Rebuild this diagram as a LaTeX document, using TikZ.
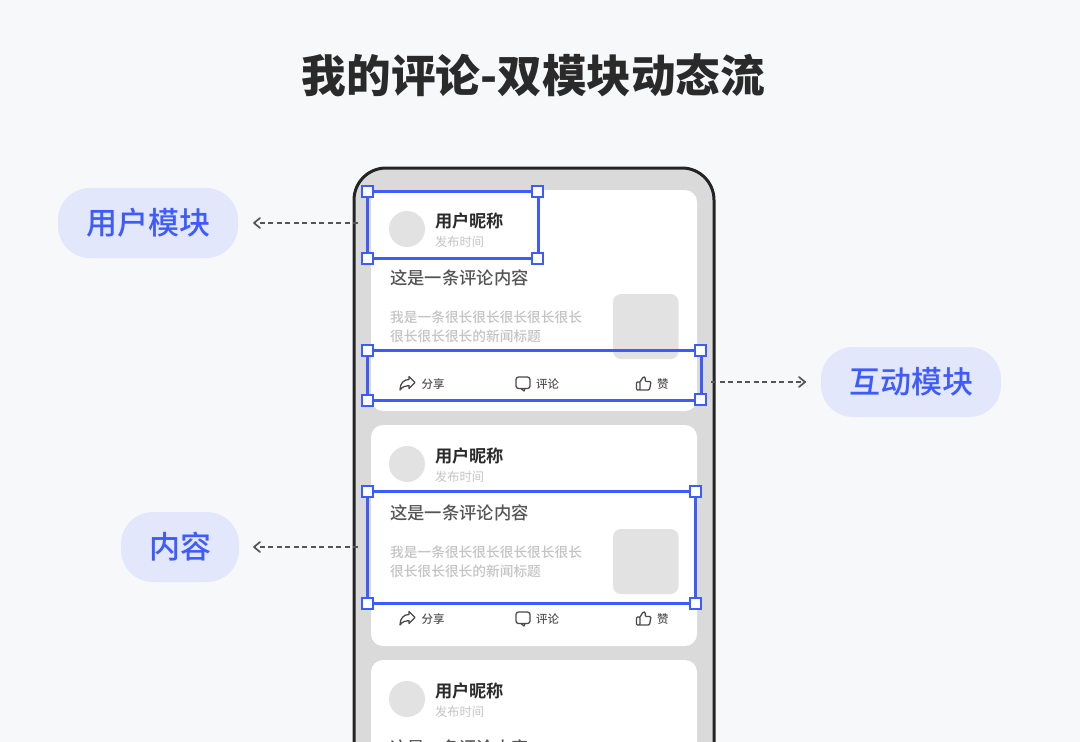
\documentclass[tikz,border=0pt]{standalone}
\usepackage{fontspec}
\setmainfont{Noto Sans CJK SC}
\newfontfamily\cjkreg{Noto Sans CJK SC}
\newfontfamily\cjkmed{Noto Sans CJK SC Medium}
\newfontfamily\cjkbold{Noto Sans CJK SC Bold}
\newfontfamily\cjktitle{Noto Sans CJK SC Black}
\definecolor{bgc}{HTML}{F7F8FA}
\definecolor{panel}{HTML}{DADADA}
\definecolor{ph}{HTML}{E2E2E2}
\definecolor{blu}{HTML}{3E5BFF}
\definecolor{pill}{HTML}{E2E7FB}
\definecolor{darkt}{HTML}{2A2A2A}
\definecolor{midt}{HTML}{555555}
\definecolor{lightt}{HTML}{C4C4C4}
\definecolor{icon}{HTML}{4A4A4A}
\tikzset{
  x=1pt,y=-1pt,
  card/.style={fill=white,rounded corners=12pt},
  sel/.style={draw=blu,line width=3pt},
  handle/.style={draw=blu,fill=white,line width=2pt,minimum size=11pt,inner sep=0pt,outer sep=0pt},
  pilln/.style={fill=pill,rounded corners=32pt,inner sep=0pt,minimum height=70pt,text=blu,font=\cjkmed\fontsize{31}{31}\selectfont},
  t/.style={inner sep=0pt,anchor=west},
  nick/.style={t,text=darkt,font=\cjkbold\fontsize{17.2}{18}\selectfont},
  when/.style={t,text=lightt,font=\cjkreg\fontsize{12.2}{13}\selectfont},
  body/.style={t,text=midt,font=\cjkmed\fontsize{17.3}{18}\selectfont},
  news/.style={t,text=lightt,font=\cjkmed\fontsize{13.7}{14}\selectfont},
  act/.style={t,text=midt,font=\cjkmed\fontsize{11.5}{12}\selectfont},
  lead/.style={draw=midt,line width=1.5pt,dash pattern=on 5pt off 3.5pt},
  tip/.style={draw=midt,line width=1.7pt,line join=round,line cap=round},
  ic/.style={draw=icon,line width=1.3pt,line join=round,line cap=round}
}
\newcommand{\cardbody}[1]{%
  \begin{scope}[yshift=#1]
    \fill[card] (371,190) rectangle (697,411);
    \fill[ph] (407,229) circle (18);
    \node[nick] at (435,220.7) {用户昵称};
    \node[when] at (435,241.7) {发布时间};
    \node[body] at (390,277.7) {这是一条评论内容};
    \node[news] at (390,317.3) {我是一条很长很长很长很长很长};
    \node[news] at (390,336.5) {很长很长很长的新闻标题};
    \fill[ph,rounded corners=8pt] (613,294) rectangle (678.5,359);
    \draw[ic] (400,390) .. controls (400,383) and (404,379.5) .. (409,379.5) -- (409,376.5) -- (415,382.5) -- (409,388.5) -- (409,385.5) .. controls (405.5,385.5) and (402,387) .. (400,390);
    \node[act] at (421.5,383.7) {分享};
    \draw[ic,rounded corners=2.5pt] (516,377) rectangle (530,388.5);
    \draw[ic] (521,388.5) -- (524,391) -- (525,388.5);
    \node[act] at (536,383.7) {评论};
    \draw[ic,rounded corners=1pt] (636.5,382) rectangle (640,390);
    \draw[ic,rounded corners=1.2pt] (640,382) -- (643.5,376.5) -- (645.5,377.5) -- (645,381.5) -- (651,381.5) -- (649.5,390) -- (640,390);
    \node[act] at (657,383.7) {赞};
  \end{scope}}
\begin{document}
\begin{tikzpicture}
\useasboundingbox (0,0) rectangle (1080,742);
\fill[bgc] (0,0) rectangle (1080,742);
\node[inner sep=0pt,text=darkt,font=\cjktitle\fontsize{44.6}{46}\selectfont] (title) at (533.5,75.5) {我的评论-双模块动态流};
\begin{scope}
  \clip (0,0) rectangle (1080,742);
  \draw[fill=panel,draw=darkt!85!black,line width=3pt,rounded corners=32pt] (354,800) -- (354,168) -- (714,168) -- (714,800);
  \cardbody{0pt}
  \cardbody{-235pt}
  \cardbody{-470pt}
\end{scope}
% selection boxes
\coordinate (ua) at (367.5,191.5); \coordinate (ub) at (538.5,258.5);
\coordinate (ia) at (367,350); \coordinate (ib) at (701.5,400);
\coordinate (ca) at (367,491); \coordinate (cb) at (695,603);
\draw[sel] (ua) rectangle (ub);
\draw[sel] (ia) rectangle (ib);
\draw[sel] (ca) rectangle (cb);
\node[handle] (u1) at (ua) {}; \node[handle] (u2) at (537,191.5) {}; \node[handle] (u3) at (ub -| ua) {}; \node[handle] (u4) at (537,258) {};
\node[handle] (i1) at (ia) {}; \node[handle] (i2) at (700.5,350) {}; \node[handle] (i3) at (ib -| ia) {}; \node[handle] (i4) at (700.5,399.5) {};
\node[handle] (c1) at (ca) {}; \node[handle] (c2) at (ca -| cb) {}; \node[handle] (c3) at (cb -| ca) {}; \node[handle] (c4) at (cb) {};
% pills
\node[pilln,minimum width=180pt] (pu) at (148,223) {\raisebox{-1.2pt}{用户模块}};
\node[pilln,minimum width=180pt] (pi) at (911,382) {\raisebox{-1.2pt}{互动模块}};
\node[pilln,minimum width=118pt] (pc) at (180,547) {\raisebox{-1.2pt}{内容}};
% leaders
\coordinate (lu) at (358,223); \coordinate (lue) at (254,223);
\coordinate (li) at (711,382); \coordinate (lie) at (805,382);
\coordinate (lc) at (358,547); \coordinate (lce) at (254,547);
\draw[lead] (lu) -- (lue);
\draw[lead] (li) -- (lie);
\draw[lead] (lc) -- (lce);
\draw[tip] (260,218) -- (lue) -- (260,228);
\draw[tip] (799,377) -- (lie) -- (799,387);
\draw[tip] (260,542) -- (lce) -- (260,552);
\end{tikzpicture}
\end{document}
